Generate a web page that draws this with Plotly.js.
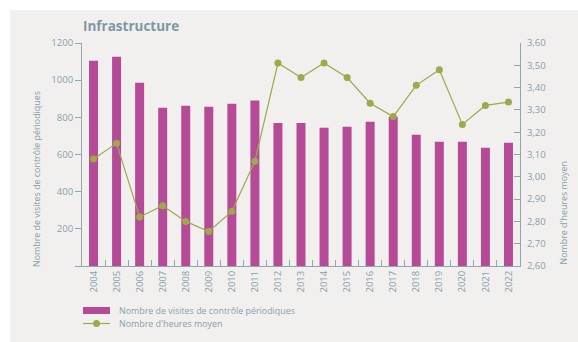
<!DOCTYPE html>
<html>
<head>
<meta charset="utf-8">
<script src="https://cdn.plot.ly/plotly-3.0.1.min.js"></script>
<style>
  html, body { margin: 0; padding: 0; background: #ffffff; width: 578px; height: 342px; overflow: hidden; }
  #chart { position: absolute; left: 10px; top: 10px; width: 568px; height: 332px; }
</style>
</head>
<body>
<div id="chart"></div>
<script>
var years = ['2004','2005','2006','2007','2008','2009','2010','2011','2012','2013','2014','2015','2016','2017','2018','2019','2020','2021','2022'];
var visits = [1104, 1126, 986, 851, 862, 857, 873, 891, 770, 770, 744, 749, 776, 803, 706, 668, 668, 636, 663];
var hours = [3.08, 3.15, 2.82, 2.87, 2.80, 2.755, 2.845, 3.07, 3.51, 3.445, 3.51, 3.445, 3.33, 3.27, 3.41, 3.48, 3.235, 3.32, 3.335];
var leftTicks = [0, 200, 400, 600, 800, 1000, 1200];
var leftTickText = ['', '200', '400', '600', '800', '1000', '1200'];
var rightTicks = [2.6, 2.7, 2.8, 2.9, 3.0, 3.1, 3.2, 3.3, 3.4, 3.5, 3.6];
var barName = 'Nombre de visites de contrôle périodiques';
var lineName = "Nombre d'heures moyen";
var chartTitle = 'Infrastructure';

var FONT = 'Open Sans, Noto Sans, sans-serif';
var TXT = '#86a0ad';
var AX = '#8fa6b3';
var BAR = '#b54a96';
var LINE = '#a0a84c';
var BG = '#f2f0ee';

var W = 568, H = 332, ML = 72, MR = 58, MT = 33, MB = 76;
var PW = W - ML - MR, PH = H - MT - MB;
function px(x) { return (x - ML) / PW; }
function py(y) { return (H - MB - y) / PH; }

var traces = [
  { type: 'bar', x: years, y: visits, name: barName, marker: { color: BAR }, yaxis: 'y', showlegend: false, hoverinfo: 'x+y' },
  { type: 'scatter', mode: 'lines+markers', x: years, y: hours, name: lineName, yaxis: 'y2',
    line: { color: LINE, width: 1.2 }, marker: { color: LINE, size: 7 }, showlegend: false }
];

var layout = {
  width: W, height: H,
  margin: { l: ML, r: MR, t: MT, b: MB, pad: 0 },
  paper_bgcolor: BG, plot_bgcolor: 'rgba(0,0,0,0)',
  font: { family: FONT, color: TXT, size: 9.5 },
  separators: ', ',
  bargap: 0.61,
  showlegend: false,
  title: { text: '<b>' + chartTitle + '</b>', x: px(73), xref: 'paper', xanchor: 'left', yref: 'container', y: 1 - 16 / H, yanchor: 'middle',
           font: { family: FONT, size: 13.5, color: '#7d97a5' } },
  xaxis: { type: 'category', range: [-0.5, 18.5], showgrid: false, zeroline: false,
           showline: true, linecolor: AX, linewidth: 1,
           ticks: 'inside', tickson: 'boundaries', ticklen: 6, tickcolor: AX, tickwidth: 1,
           tickangle: -90, tickfont: { family: FONT, size: 9.5, color: TXT } },
  yaxis: { range: [0, 1200], tickmode: 'array', tickvals: leftTicks, ticktext: leftTickText,
           showgrid: false, zeroline: false, showline: true, linecolor: AX, linewidth: 1,
           ticks: 'outside', ticklen: 6, tickcolor: AX, tickwidth: 1,
           tickfont: { family: FONT, size: 9.5, color: TXT } },
  yaxis3: { range: [0, 1200], overlaying: 'y', side: 'left', tickmode: 'array', tickvals: leftTicks,
           showticklabels: false, showgrid: false, zeroline: false, showline: false,
           ticks: 'inside', ticklen: 6, tickcolor: AX, tickwidth: 1 },
  yaxis2: { range: [2.6, 3.6], overlaying: 'y', side: 'right', tickmode: 'array', tickvals: rightTicks, tickformat: '.2f',
           showgrid: false, zeroline: false, showline: true, linecolor: AX, linewidth: 1,
           ticks: 'inside', ticklen: 6, tickcolor: AX, tickwidth: 1, ticklabelstandoff: 4,
           tickfont: { family: FONT, size: 9.5, color: TXT } },
  annotations: [
    { text: barName, textangle: -90, xref: 'paper', yref: 'paper', x: 0, y: 0, yshift: -3, xshift: -46,
      xanchor: 'center', yanchor: 'bottom', showarrow: false, font: { family: FONT, size: 8.9, color: TXT } },
    { text: lineName, textangle: -90, xref: 'paper', yref: 'paper', x: 1, y: 0, yshift: -1, xshift: 43,
      xanchor: 'center', yanchor: 'bottom', showarrow: false, font: { family: FONT, size: 8.9, color: TXT } },
    { text: barName, xref: 'paper', yref: 'paper', x: px(107), y: py(300), xanchor: 'left', yanchor: 'middle',
      showarrow: false, font: { family: FONT, size: 8.9, color: TXT } },
    { text: lineName, xref: 'paper', yref: 'paper', x: px(107), y: py(313.5), xanchor: 'left', yanchor: 'middle',
      showarrow: false, font: { family: FONT, size: 8.9, color: TXT } }
  ],
  shapes: [
    { type: 'rect', xref: 'paper', yref: 'paper', x0: px(73), x1: px(100), y0: py(304), y1: py(297),
      fillcolor: BAR, line: { width: 0 } },
    { type: 'line', xref: 'paper', yref: 'paper', x0: px(73), x1: px(100), y0: py(313.5), y1: py(313.5),
      line: { color: LINE, width: 1.2 } },
    { type: 'circle', xref: 'paper', yref: 'paper', x0: px(83), x1: px(90), y0: py(317), y1: py(310),
      fillcolor: LINE, line: { width: 0 } }
  ]
};

Plotly.newPlot('chart', traces, layout, { displayModeBar: false, staticPlot: true });
</script>
</body>
</html>
